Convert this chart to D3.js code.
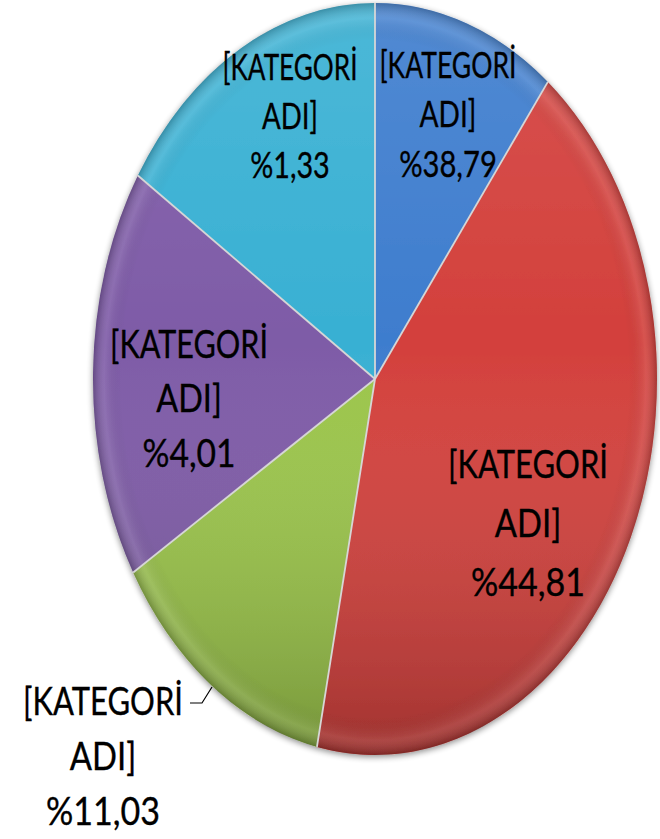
<!DOCTYPE html>
<html><head><meta charset="utf-8">
<script src="https://cdn.jsdelivr.net/npm/d3@7/dist/d3.min.js"></script>
<style>body{margin:0;background:#fff}svg{display:block}</style>
</head><body>
<svg id="chart" width="660" height="839"></svg>
<script>
// ---- data ----
const categories = ["[KATEGORİ ADI]", "[KATEGORİ ADI]", "[KATEGORİ ADI]", "[KATEGORİ ADI]", "[KATEGORİ ADI]"];
const percentLabels = ["%38,79", "%44,81", "%11,03", "%4,01", "%1,33"];
// slice sizes as drawn in the picture (share of the full turn, %)
const sliceValues = [10.5, 42.8, 13.1, 17.7, 15.9];
const sliceColors = ["#3e7dce", "#d3403c", "#9bc54a", "#7e5ba7", "#38b0d3"];

// ---- layout ----
const W = 660, H = 839;
const cx = 375, cy = 379, ry = 376, rx = 282;
const labelLayout = [
  {x: 448, y: 78,  size: 37, lh: 49.5, w: 137},
  {x: 528, y: 478, size: 39.5, lh: 59, w: 160},
  {x: 103, y: 715, size: 39.5, lh: 55, w: 160},
  {x: 189, y: 358, size: 39.5, lh: 54.5, w: 158},
  {x: 290, y: 80,  size: 37, lh: 49, w: 135}
];
const lineStretch = [1, 1.06, 1.1];

const svg = d3.select("#chart");
const defs = svg.append("defs");

const shadow = defs.append("filter").attr("id", "shadow")
  .attr("x", "-10%").attr("y", "-10%").attr("width", "120%").attr("height", "120%");
shadow.append("feGaussianBlur").attr("in", "SourceAlpha").attr("stdDeviation", 3).attr("result", "b");
shadow.append("feOffset").attr("in", "b").attr("dx", 0).attr("dy", 2).attr("result", "o");
shadow.append("feComponentTransfer").attr("in", "o").attr("result", "s")
  .append("feFuncA").attr("type", "linear").attr("slope", 0.45);
const m = shadow.append("feMerge");
m.append("feMergeNode").attr("in", "s");
m.append("feMergeNode").attr("in", "SourceGraphic");

// vertical shading: lighter top, darker bottom
const lg = defs.append("linearGradient").attr("id", "vshade").attr("x1", 0).attr("y1", 0).attr("x2", 0).attr("y2", 1);
lg.append("stop").attr("offset", "0%").attr("stop-color", "#fff").attr("stop-opacity", 0.10);
lg.append("stop").attr("offset", "45%").attr("stop-color", "#fff").attr("stop-opacity", 0.0);
lg.append("stop").attr("offset", "100%").attr("stop-color", "#000").attr("stop-opacity", 0.24);

// rim bevel
const rg = defs.append("radialGradient").attr("id", "rim")
  .attr("gradientUnits", "userSpaceOnUse").attr("cx", 0).attr("cy", 0).attr("r", ry);
rg.append("stop").attr("offset", "0%").attr("stop-color", "#000").attr("stop-opacity", 0);
rg.append("stop").attr("offset", "90%").attr("stop-color", "#000").attr("stop-opacity", 0);
rg.append("stop").attr("offset", "96%").attr("stop-color", "#fff").attr("stop-opacity", 0.10);
rg.append("stop").attr("offset", "100%").attr("stop-color", "#000").attr("stop-opacity", 0.22);

const pie = d3.pie().sort(null).value(d => d).startAngle(0).endAngle(2 * Math.PI);
const arcs = pie(sliceValues);
const arc = d3.arc().innerRadius(0).outerRadius(ry);

const g = svg.append("g").attr("filter", "url(#shadow)");
const pg = g.append("g").attr("transform", `translate(${cx},${cy}) scale(${rx / ry},1)`);

pg.selectAll("path.slice").data(arcs).join("path")
  .attr("class", "slice")
  .attr("d", arc)
  .attr("fill", (d, i) => sliceColors[i]);

pg.append("circle").attr("r", ry).attr("fill", "url(#vshade)");
pg.append("circle").attr("r", ry).attr("fill", "url(#rim)");

pg.selectAll("path.sep").data(arcs).join("path")
  .attr("class", "sep")
  .attr("d", d => `M0,0L${ry * Math.sin(d.startAngle)},${-ry * Math.cos(d.startAngle)}`)
  .attr("stroke", "#d6d6d6").attr("stroke-width", 1.8)
  .attr("vector-effect", "non-scaling-stroke").attr("fill", "none");

// ---- labels ----
const lab = svg.append("g").attr("font-family", "Lato, 'Open Sans', sans-serif")
  .attr("fill", "#000").attr("stroke", "#000").attr("stroke-width", 0.35);
arcs.forEach((a, i) => {
  const L = labelLayout[i];
  const parts = categories[i].split(" ");
  const lines = [parts[0], parts[1], percentLabels[i]];
  let sx = 1;
  lines.forEach((s, k) => {
    const t = lab.append("text").attr("text-anchor", "middle").attr("font-size", L.size)
      .attr("y", L.y + k * L.lh).text(s);
    if (k === 0) sx = L.w / t.node().getComputedTextLength();
    t.attr("transform", `translate(${L.x},0) scale(${sx * lineStretch[k]},1)`);
  });
});

// leader line for the outside label (green slice)
lab.append("path")
  .attr("d", "M190,703L202,703L212,687")
  .attr("stroke", "#000").attr("stroke-width", 1.2).attr("fill", "none");
</script>
</body></html>
